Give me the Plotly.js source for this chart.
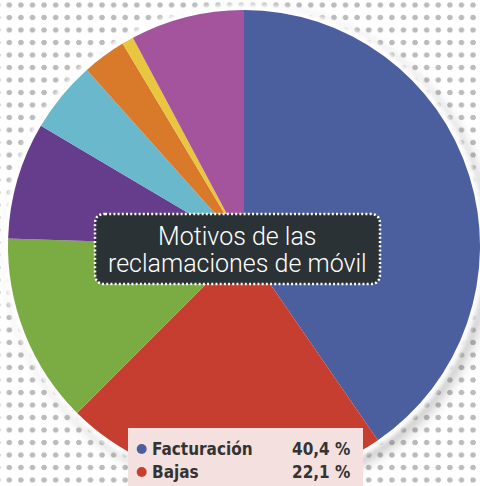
<!DOCTYPE html>
<html><head><meta charset="utf-8">
<script src="https://cdn.plot.ly/plotly-3.0.1.min.js"></script>
<style>
html,body{margin:0;padding:0;}
body{width:480px;height:486px;overflow:hidden;position:relative;background-color:#fff;
background-image:radial-gradient(circle, #bbbbbb 2.4px, rgba(187,187,187,0) 3px);
background-size:11.6px 12.5px;background-position:3.5px -1.25px;}
#halo{position:absolute;left:8px;top:10px;width:472px;height:472px;border-radius:50%;background:#fff;
box-shadow:0 0 5px 6px #fff, 6px 6px 14px 4px rgba(0,0,0,0.25);}
#chart{position:absolute;left:0;top:0;width:480px;height:486px;}
</style></head>
<body>
<div id="halo"></div>
<div id="chart"></div>
<script>
// Data
const categories = ["Facturación","Bajas","Motivo 3","Motivo 4","Motivo 5","Motivo 6","Motivo 7","Motivo 8"];
const shares = [40.4, 22.1, 13.0, 8.0, 4.9, 3.0, 0.8, 7.8];
const sliceColors = ["#4b5f9f","#c63e2f","#7bab43","#663c8c","#6ab8cb","#d97a2b","#e8c640","#a4549c"];
const titleLines = ["Motivos de las", "reclamaciones de móvil"];
const legendNames = ["Facturación", "Bajas"];
const legendValues = ["40,4", "22,1"];

const W = 480, H = 486;
const px = x => x / W, py = y => 1 - y / H;

// rounded dotted box path
const bx0 = 95, by0 = 214, bx1 = 380, by1 = 284, br = 10;
const P = (x, y) => px(x) + "," + py(y);
const boxPath = "M" + P(bx0 + br, by0) + " L" + P(bx1 - br, by0) + " Q" + P(bx1, by0) + " " + P(bx1, by0 + br) +
  " L" + P(bx1, by1 - br) + " Q" + P(bx1, by1) + " " + P(bx1 - br, by1) +
  " L" + P(bx0 + br, by1) + " Q" + P(bx0, by1) + " " + P(bx0, by1 - br) +
  " L" + P(bx0, by0 + br) + " Q" + P(bx0, by0) + " " + P(bx0 + br, by0) + " Z";

const rowsY = [449, 472];
const shapes = [
  {type: "path", xref: "paper", yref: "paper", path: boxPath, fillcolor: "#2b3235",
   line: {color: "#ffffff", width: 2.5, dash: "2px,2.2px"}},
  {type: "rect", xref: "paper", yref: "paper", x0: px(128), x1: px(363), y0: py(428), y1: py(490),
   fillcolor: "#f4e0df", line: {width: 0}}
];
const annotations = [];
titleLines.forEach((t, i) => {
  annotations.push({xref: "paper", yref: "paper", x: px(237), y: py(237 + i * 26.5), text: t, showarrow: false,
    xanchor: "center", yanchor: "middle",
    font: {family: "Roboto", weight: 300, size: 25, color: "#ffffff"}});
});
legendNames.forEach((n, i) => {
  shapes.push({type: "circle", xref: "paper", yref: "paper", x0: px(136.7), x1: px(146.7),
    y0: py(rowsY[i] - 5), y1: py(rowsY[i] + 5), fillcolor: sliceColors[i], line: {width: 0}});
  const f = {family: "DejaVu Sans Condensed, DejaVu Sans", stretch: "condensed", weight: 700, size: 17, color: "#333333"};
  annotations.push({xref: "paper", yref: "paper", x: px(150), y: py(rowsY[i]), text: n, showarrow: false,
    xanchor: "left", yanchor: "middle", font: f});
  annotations.push({xref: "paper", yref: "paper", x: px(289.5), y: py(rowsY[i]), text: legendValues[i], showarrow: false,
    xanchor: "left", yanchor: "middle", font: f});
  annotations.push({xref: "paper", yref: "paper", x: px(333), y: py(rowsY[i]), text: "%", showarrow: false,
    xanchor: "left", yanchor: "middle", font: f});
});

const trace = {
  type: "pie", labels: categories, values: shares, sort: false, direction: "clockwise", rotation: 0,
  marker: {colors: sliceColors, line: {width: 0}}, textinfo: "none", hoverinfo: "none",
  domain: {x: [8 / W, 1], y: [4 / H, 476 / H]}
};
Plotly.newPlot("chart", [trace], {
  width: W, height: H, margin: {l: 0, r: 0, t: 0, b: 0},
  paper_bgcolor: "rgba(0,0,0,0)", plot_bgcolor: "rgba(0,0,0,0)", showlegend: false,
  shapes: shapes, annotations: annotations
}, {displayModeBar: false, staticPlot: true});
</script>
</body></html>
